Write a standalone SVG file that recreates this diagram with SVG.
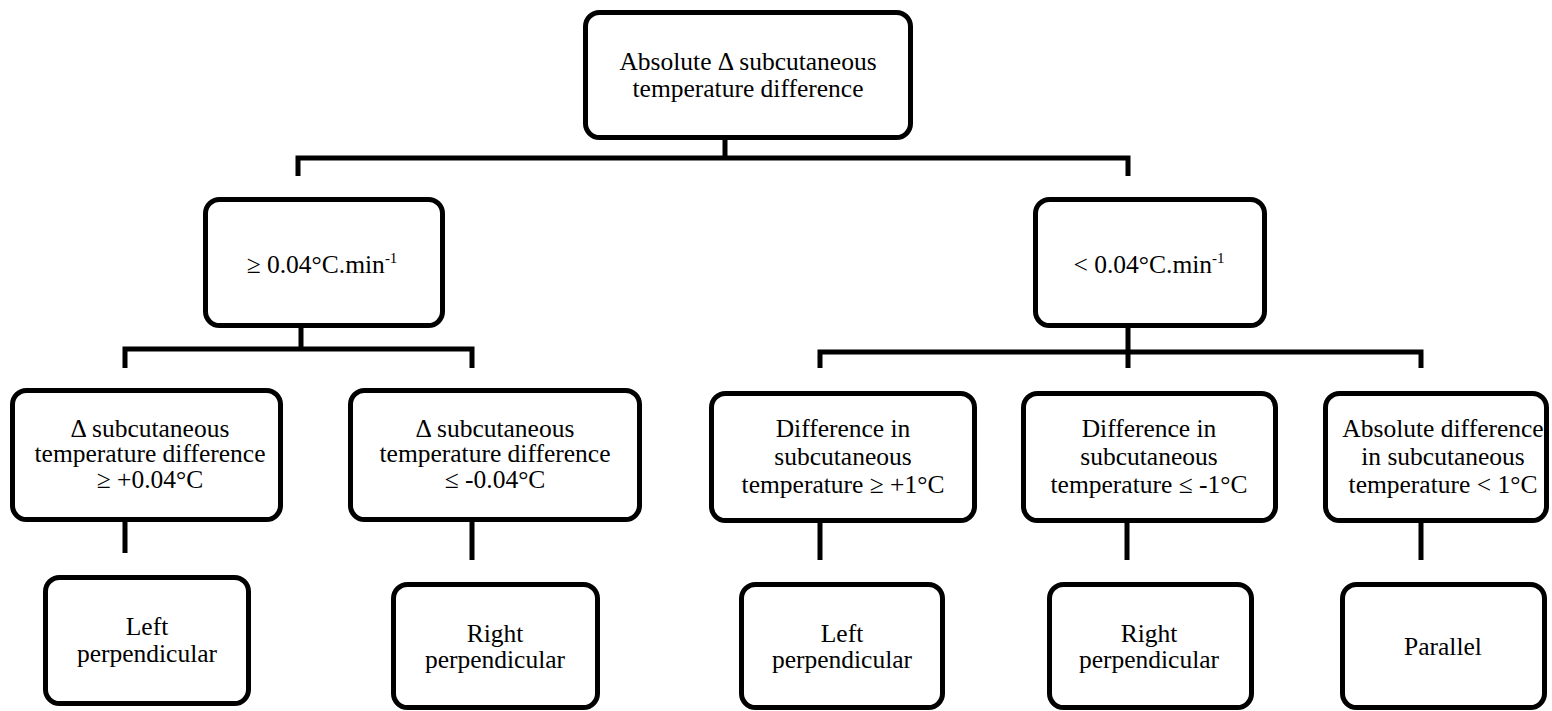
<svg xmlns="http://www.w3.org/2000/svg" width="1552" height="711" viewBox="0 0 1552 711">
<style>
.box{fill:#fff;stroke:#000;stroke-width:5}
.c{fill:none;stroke:#000;stroke-width:5}
text{font-family:"Liberation Serif","Times New Roman",serif;font-size:25.5px;fill:#000;text-anchor:middle}
.sup{font-size:15px}
</style>
<rect width="1552" height="711" fill="#fff"/>
<g id="connectors">
<path class="c" d="M725 140V158M295.5 158H1130.5M298 158V176M1128 158V176"/>
<path class="c" d="M301 328V349M122.5 349H474.5M125 349V368M472 349V368"/>
<path class="c" d="M1128 328V352M817.5 352H1423.5M820 352V368M1128 352V368M1421 352V368"/>
<path class="c" d="M125 522V553M472 522V560M820 523V560M1127 523V560M1421 523V560"/>
</g>
<g id="n0"><rect class="box" x="585.5" y="12.5" width="325" height="125" rx="14"/>
<text x="748" y="70">Absolute Δ subcutaneous</text><text x="748" y="97">temperature difference</text></g>
<g id="n1"><rect class="box" x="205.5" y="199.5" width="237" height="126" rx="14"/>
<text x="322" y="273">≥ 0.04°C.min<tspan class="sup" dy="-10">-1</tspan></text></g>
<g id="n2"><rect class="box" x="1035.5" y="199.5" width="229" height="126" rx="14"/>
<text x="1149" y="273">&lt; 0.04°C.min<tspan class="sup" dy="-10">-1</tspan></text></g>
<g id="n3"><rect class="box" x="12.5" y="390.5" width="268" height="129" rx="14"/>
<text x="150" y="437">Δ subcutaneous</text><text x="150" y="462">temperature difference</text><text x="150" y="488">≥ +0.04°C</text></g>
<g id="n4"><rect class="box" x="350.5" y="390.5" width="289" height="129" rx="14"/>
<text x="495" y="437">Δ subcutaneous</text><text x="495" y="462">temperature difference</text><text x="495" y="488">≤ -0.04°C</text></g>
<g id="n5"><rect class="box" x="711.5" y="393.5" width="263" height="127" rx="14"/>
<text x="843" y="437">Difference in</text><text x="843" y="465">subcutaneous</text><text x="843" y="493">temperature ≥ +1°C</text></g>
<g id="n6"><rect class="box" x="1023.5" y="393.5" width="252" height="127" rx="14"/>
<text x="1149" y="437">Difference in</text><text x="1149" y="465">subcutaneous</text><text x="1149" y="493">temperature ≤ -1°C</text></g>
<g id="n7"><rect class="box" x="1325.5" y="393.5" width="221" height="127" rx="14"/>
<text x="1443" y="437">Absolute difference</text><text x="1443" y="465">in subcutaneous</text><text x="1443" y="493">temperature &lt; 1°C</text></g>
<g id="n8"><rect class="box" x="45.5" y="577.5" width="203" height="126" rx="14"/>
<text x="147" y="635">Left</text><text x="147" y="662">perpendicular</text></g>
<g id="n9"><rect class="box" x="393.5" y="584.5" width="204" height="123" rx="14"/>
<text x="495" y="642">Right</text><text x="495" y="668">perpendicular</text></g>
<g id="n10"><rect class="box" x="741.5" y="584.5" width="201" height="123" rx="14"/>
<text x="842" y="642">Left</text><text x="842" y="668">perpendicular</text></g>
<g id="n11"><rect class="box" x="1049.5" y="584.5" width="202" height="123" rx="14"/>
<text x="1149" y="642">Right</text><text x="1149" y="668">perpendicular</text></g>
<g id="n12"><rect class="box" x="1342.5" y="584.5" width="202" height="123" rx="14"/>
<text x="1443" y="655">Parallel</text></g>
</svg>
